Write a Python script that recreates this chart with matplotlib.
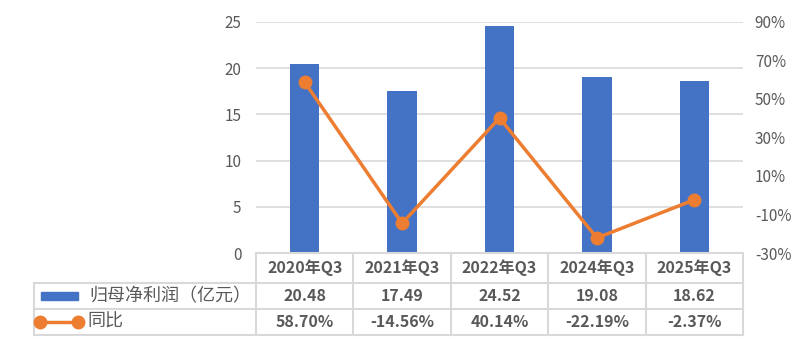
import numpy as np
import matplotlib.pyplot as plt
from matplotlib.lines import Line2D
from matplotlib.patches import Rectangle

plt.rcParams['font.family'] = ['Noto Sans CJK SC', 'DejaVu Sans']

categories = ['2020年Q3', '2021年Q3', '2022年Q3', '2024年Q3', '2025年Q3']
profit = [20.48, 17.49, 24.52, 19.08, 18.62]
yoy = [58.70, -14.56, 40.14, -22.19, -2.37]
profit_labels = ['20.48', '17.49', '24.52', '19.08', '18.62']
yoy_labels = ['58.70%', '-14.56%', '40.14%', '-22.19%', '-2.37%']
series_names = ['归母净利润（亿元）', '同比']

W, H = 808, 360
blue = '#4472C4'
orange = '#ED7D31'
grid = '#D9D9D9'
txt = '#595959'

fig = plt.figure(figsize=(W / 100, H / 100), dpi=100)

x0, x1 = 256, 743
ytop, ybot = 22, 253
ax = fig.add_axes([x0 / W, 1 - ybot / H, (x1 - x0) / W, (ybot - ytop) / H])
x = np.arange(len(categories))
ax.bar(x, profit, width=0.3, color=blue, zorder=2)
ax.set_xlim(-0.5, len(categories) - 0.5)
ax.set_ylim(0, 25)
ax.set_yticks(range(0, 26, 5))
ax.yaxis.grid(True, color=grid, linewidth=1.2, zorder=0)
ax.set_xticks([])
for s in ax.spines.values():
    s.set_visible(False)
ax.tick_params(axis='y', length=0, labelsize=11, labelcolor=txt, pad=10.5)

ax2 = ax.twinx()
ax2.plot(x, yoy, color=orange, linewidth=2.5, marker='o', markersize=9, zorder=3)
ax2.set_ylim(-30, 90)
ax2.set_yticks(range(-30, 91, 20))
ax2.set_yticklabels([f'{v}%' for v in range(-30, 91, 20)])
for s in ax2.spines.values():
    s.set_visible(False)
ax2.tick_params(axis='y', length=0, labelsize=11, labelcolor=txt, pad=8.5)

# data table below the plot, in pixel coordinates
tab = fig.add_axes([0, 0, 1, 1])
tab.set_xlim(0, W)
tab.set_ylim(H, 0)
tab.axis('off')

rows = [253, 283, 309, 335]
lx = 34
colw = (x1 - x0) / len(categories)
lc = dict(color=grid, linewidth=1.5)
tab.plot([x0, x1], [rows[0], rows[0]], **lc)
for r in rows[1:]:
    tab.plot([lx, x1], [r, r], **lc)
tab.plot([lx, lx], [rows[1], rows[3]], **lc)
for i in range(len(categories) + 1):
    cx = x0 + i * colw
    tab.plot([cx, cx], [rows[0], rows[3]], **lc)

for i, cat in enumerate(categories):
    cx = x0 + (i + 0.5) * colw
    tab.text(cx, (rows[0] + rows[1]) / 2, cat, ha='center', va='center',
             fontsize=11.5, fontweight='bold', color=txt)
    tab.text(cx, (rows[1] + rows[2]) / 2, profit_labels[i], ha='center', va='center',
             fontsize=11.5, fontweight='bold', color=txt)
    tab.text(cx, (rows[2] + rows[3]) / 2, yoy_labels[i], ha='center', va='center',
             fontsize=11.5, fontweight='bold', color=txt)

ym1 = (rows[1] + rows[2]) / 2
ym2 = (rows[2] + rows[3]) / 2
tab.add_patch(Rectangle((41, ym1 - 4), 37, 8, color=blue))
tab.text(89, ym1, series_names[0], ha='left', va='center', fontsize=13, color=txt)
tab.add_line(Line2D([40, 78], [ym2, ym2], color=orange, linewidth=2.5,
                    marker='o', markersize=9))
tab.text(87, ym2, series_names[1], ha='left', va='center', fontsize=13, color=txt)

fig.savefig('out.png', dpi=100)
